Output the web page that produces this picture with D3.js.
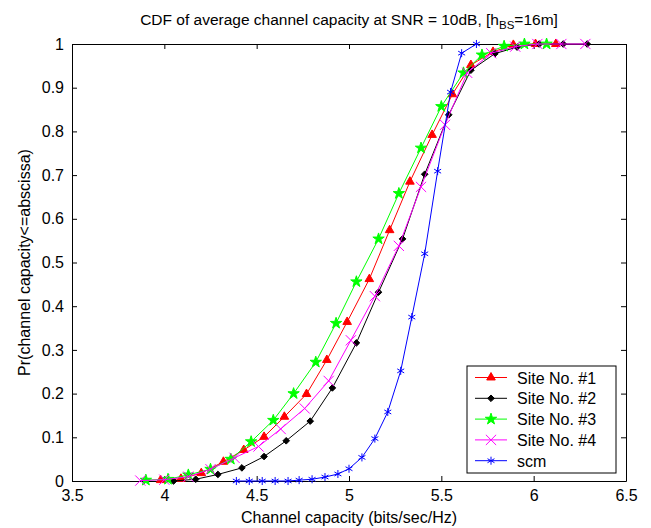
<!DOCTYPE html>
<html>
<head>
<meta charset="utf-8">
<script src="https://cdn.jsdelivr.net/npm/d3@7"></script>
<style>
  body { margin: 0; background: #fff; }
  svg text { font-family: "Liberation Sans", Arial, Helvetica, sans-serif; fill: #000; }
</style>
</head>
<body>
<div class="container"></div>
<script>
// values
const site1X = [3.98, 4.09, 4.20, 4.32, 4.43, 4.54, 4.65, 4.77, 4.88, 4.99, 5.11, 5.22, 5.33, 5.45, 5.56, 5.66, 5.78, 5.89, 6.01, 6.12];
const site1Y = [0.002, 0.005, 0.018, 0.044, 0.071, 0.101, 0.147, 0.199, 0.277, 0.364, 0.462, 0.574, 0.685, 0.792, 0.885, 0.952, 0.982, 0.998, 1, 1];

const site2X = [4.05, 4.17, 4.29, 4.42, 4.54, 4.66, 4.79, 4.91, 5.04, 5.16, 5.29, 5.41, 5.54, 5.66, 5.79, 5.91, 6.03, 6.16, 6.29];
const site2Y = [0, 0.004, 0.015, 0.03, 0.056, 0.092, 0.137, 0.213, 0.316, 0.432, 0.554, 0.702, 0.838, 0.94, 0.978, 0.993, 1, 1, 1];

const site3X = [3.90, 4.02, 4.13, 4.25, 4.36, 4.47, 4.59, 4.70, 4.82, 4.93, 5.04, 5.16, 5.27, 5.39, 5.50, 5.62, 5.72, 5.84, 5.95, 6.07];
const site3Y = [0.002, 0.004, 0.014, 0.027, 0.05, 0.09, 0.139, 0.2, 0.272, 0.361, 0.456, 0.554, 0.658, 0.762, 0.857, 0.934, 0.975, 0.995, 1, 1];

const site4X = [3.87, 4.00, 4.13, 4.25, 4.38, 4.51, 4.63, 4.76, 4.89, 5.01, 5.14, 5.27, 5.39, 5.52, 5.64, 5.77, 5.90, 6.02, 6.15, 6.28];
const site4Y = [0.001, 0.003, 0.01, 0.027, 0.053, 0.079, 0.119, 0.166, 0.229, 0.322, 0.423, 0.538, 0.673, 0.815, 0.934, 0.979, 0.994, 1, 1, 1];

const scmX = [4.39, 4.46, 4.53, 4.60, 4.67, 4.73, 4.80, 4.87, 4.94, 5.00, 5.07, 5.14, 5.21, 5.28, 5.34, 5.41, 5.48, 5.55, 5.61, 5.69];
const scmY = [0, 0, 0, 0, 0, 0.002, 0.004, 0.009, 0.016, 0.028, 0.054, 0.097, 0.158, 0.252, 0.375, 0.52, 0.709, 0.89, 0.979, 1];

const seriesNames = ["Site No. #1", "Site No. #2", "Site No. #3", "Site No. #4", "scm"];
const xTicks = [3.5, 4, 4.5, 5, 5.5, 6, 6.5];
const yTicks = [0, 0.1, 0.2, 0.3, 0.4, 0.5, 0.6, 0.7, 0.8, 0.9, 1];

const zip = (xs, ys) => xs.map((x, i) => ({ x: x, y: ys[i] }));

// matlab diamond is a square turned 45 degrees, wider than d3's
const squareDiamond = {
  draw(ctx, size) {
    let r = Math.sqrt(size / 2);
    ctx.moveTo(0, -r); ctx.lineTo(r, 0); ctx.lineTo(0, r); ctx.lineTo(-r, 0); ctx.closePath();
  }
};

const series = [
  { name: seriesNames[0], pts: zip(site1X, site1Y), color: "#ff0000", sym: d3.symbolTriangle, size: 32, fill: true },
  { name: seriesNames[1], pts: zip(site2X, site2Y), color: "#000000", sym: squareDiamond, size: 22, fill: true },
  { name: seriesNames[2], pts: zip(site3X, site3Y), color: "#00ff00", sym: d3.symbolStar, size: 40, fill: true },
  { name: seriesNames[3], pts: zip(site4X, site4Y), color: "#ff00ff", sym: d3.symbolTimes || d3.symbolCross, size: 70, fill: false },
  { name: seriesNames[4], pts: zip(scmX, scmY), color: "#0000ff", sym: d3.symbolAsterisk || d3.symbolCross, size: 45, fill: false }
];

let width = 651,
    height = 528,
    margin = { top: 44, right: 25, bottom: 47, left: 72 },
    plotW = width - margin.left - margin.right,
    plotH = height - margin.top - margin.bottom;

let svg = d3.select('.container')
  .append('svg')
  .attr('width', width)
  .attr('height', height);

let xScale = d3.scaleLinear().domain([3.5, 6.5]).range([0, plotW]);
let yScale = d3.scaleLinear().domain([0, 1]).range([plotH, 0]);

let g = svg.append('g').attr('transform', `translate(${margin.left}, ${margin.top})`);

let fmt = d => d3.format('~g')(d);

// box + inward ticks on all four sides, matlab style
g.append('g')
  .attr('transform', `translate(0, ${plotH})`)
  .call(d3.axisBottom(xScale).tickValues(xTicks).tickFormat(fmt).tickSizeInner(-5).tickSizeOuter(0).tickPadding(9));
g.append('g')
  .call(d3.axisTop(xScale).tickValues(xTicks).tickFormat('').tickSizeInner(-5).tickSizeOuter(0));
g.append('g')
  .call(d3.axisLeft(yScale).tickValues(yTicks).tickFormat(fmt).tickSizeInner(-5).tickSizeOuter(0).tickPadding(8));
g.append('g')
  .attr('transform', `translate(${plotW}, 0)`)
  .call(d3.axisRight(yScale).tickValues(yTicks).tickFormat('').tickSizeInner(-5).tickSizeOuter(0));

g.selectAll('.domain').attr('stroke', '#000').attr('stroke-width', 1);
g.selectAll('.tick line').attr('stroke', '#000');
g.selectAll('.tick text').style('font-size', '16px').attr('fill', '#000');

// lines and markers
let line = d3.line().x(d => xScale(d.x)).y(d => yScale(d.y));

series.forEach(s => {
  g.append('path')
    .datum(s.pts)
    .attr('d', line)
    .attr('fill', 'none')
    .attr('stroke', s.color)
    .attr('stroke-width', 1);

  g.selectAll(null)
    .data(s.pts)
    .enter()
    .append('path')
    .attr('transform', d => `translate(${xScale(d.x)}, ${yScale(d.y)})`)
    .attr('d', d3.symbol().type(s.sym).size(s.size))
    .attr('fill', s.fill ? s.color : 'none')
    .attr('stroke', s.color)
    .attr('stroke-width', 1);
});

// legend
let leg = svg.append('g').attr('transform', 'translate(467, 366)');
leg.append('rect')
  .attr('width', 149).attr('height', 107)
  .attr('fill', '#fff').attr('stroke', '#000').attr('stroke-width', 1);

series.forEach((s, i) => {
  let y = 11.5 + i * 20.8;
  leg.append('line')
    .attr('x1', 8).attr('x2', 40).attr('y1', y).attr('y2', y)
    .attr('stroke', s.color).attr('stroke-width', 1);
  leg.append('path')
    .attr('transform', `translate(24, ${y})`)
    .attr('d', d3.symbol().type(s.sym).size(s.size))
    .attr('fill', s.fill ? s.color : 'none')
    .attr('stroke', s.color);
  leg.append('text')
    .attr('x', 50).attr('y', y + 6)
    .style('font-size', '16px')
    .text(s.name);
});

// title with subscript
let title = svg.append('text')
  .attr('x', margin.left + plotW / 2)
  .attr('y', 25)
  .style('font-size', '15.5px')
  .style('text-anchor', 'middle');
title.append('tspan').text('CDF of average channel capacity at SNR = 10dB, [h');
title.append('tspan').attr('dy', 4).style('font-size', '11.5px').text('BS');
title.append('tspan').attr('dy', -4).text('=16m]');

svg.append('text')
  .attr('x', margin.left + plotW / 2)
  .attr('y', 523)
  .style('font-size', '16px')
  .style('text-anchor', 'middle')
  .text('Channel capacity (bits/sec/Hz)');

svg.append('text')
  .attr('transform', `translate(30, ${margin.top + plotH / 2}) rotate(-90)`)
  .style('font-size', '16px')
  .style('text-anchor', 'middle')
  .text('Pr(channel capacity<=abscissa)');
</script>
</body>
</html>
